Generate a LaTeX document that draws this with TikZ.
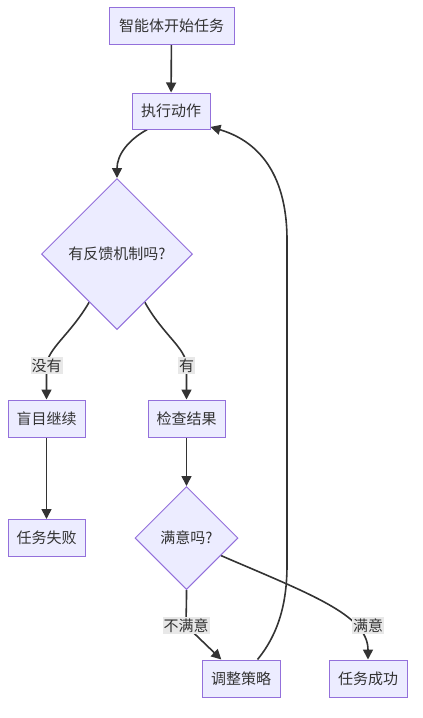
\documentclass[tikz,border=0pt]{standalone}
\usepackage{fontspec}
\setmainfont{Noto Sans CJK SC}
\usepackage{tikz}
\usetikzlibrary{shapes.geometric,arrows.meta}
\pgfdeclarelayer{edgelayer}
\pgfdeclarelayer{nodelayer}
\pgfsetlayers{edgelayer,nodelayer,main}
\definecolor{lpurple}{HTML}{ECECFF}
\definecolor{dpurple}{HTML}{9370DB}
\definecolor{dgrey}{HTML}{333333}
\definecolor{lgrey}{HTML}{E8E8E8}
\newcommand{\flowfont}{\fontsize{15}{18}\selectfont}
\tikzstyle{none}=[inner sep=0pt]
\tikzstyle{process}=[rectangle,fill=lpurple,draw=dpurple,line width=1pt,minimum width=77pt,minimum height=37pt,inner sep=0pt,text=dgrey,font=\flowfont]
\tikzstyle{decision}=[diamond,fill=lpurple,draw=dpurple,line width=1pt,inner sep=0pt,aspect=1,text=dgrey,font=\flowfont]
\tikzstyle{edgelabel}=[rectangle,fill=lgrey,inner sep=1pt,minimum height=17pt,text=dgrey,font=\flowfont]
\tikzstyle{flow}=[-{Triangle[length=10pt,width=10pt]},draw=dgrey,line width=1.6pt]

\begin{document}
\begin{tikzpicture}[x=1pt,y=1pt]
	\useasboundingbox (0,0) rectangle (423,-718);
	\begin{pgfonlayer}{nodelayer}
		\node [style=process, minimum width=125pt] (0) at (171.5, -25.5) {智能体开始任务};
		\node [style=process, minimum width=78pt, minimum height=36pt] (1) at (171, -111) {执行动作};
		\node [style=decision, minimum width=151pt, minimum height=151pt] (2) at (117, -254) {有反馈机制吗?};
		\node [style=process] (3) at (46.5, -418.5) {盲目继续};
		\node [style=process] (4) at (186.5, -418.5) {检查结果};
		\node [style=process] (5) at (46.5, -538) {任务失败};
		\node [style=decision, minimum width=103pt, minimum height=103pt] (6) at (186.5, -538) {满意吗?};
		\node [style=process, minimum width=78pt] (7) at (241, -678.5) {调整策略};
		\node [style=process, minimum width=78pt] (8) at (368, -678.5) {任务成功};
		\node [style=edgelabel] (9) at (46.5, -365.5) {没有};
		\node [style=edgelabel] (10) at (186.5, -365.5) {有};
		\node [style=edgelabel] (11) at (186, -625.5) {不满意};
		\node [style=edgelabel] (12) at (368, -625.5) {满意};
	\end{pgfonlayer}
	\begin{pgfonlayer}{edgelayer}
		\draw [style=flow] (0) to (1);
		\draw [style=flow] (1.-142) .. controls (128, -140) and (117, -155) .. (2.north);
		\draw [style=flow] (2.-120) .. controls (70, -335) and (48, -348) .. (9.center) -- (3.north);
		\draw [style=flow] (2.-60) .. controls (163, -335) and (186, -348) .. (10.center) -- (4.north);
		\draw [style=flow] (4) to (6);
		\draw [style=flow] (3) to (5);
		\draw [style=flow] (6.south) .. controls (186.5, -608) and (186, -615) .. (11.center) -- (7.136);
		\draw [style=flow] (6.-27) .. controls (310, -594) and (368, -615) .. (8.north);
		\draw [style=flow] (7.49) .. controls (280, -632) and (287, -600) .. (287, -565)
			-- (287, -240) .. controls (287, -170) and (255, -140) .. (1.-22);
	\end{pgfonlayer}
\end{tikzpicture}
\end{document}
